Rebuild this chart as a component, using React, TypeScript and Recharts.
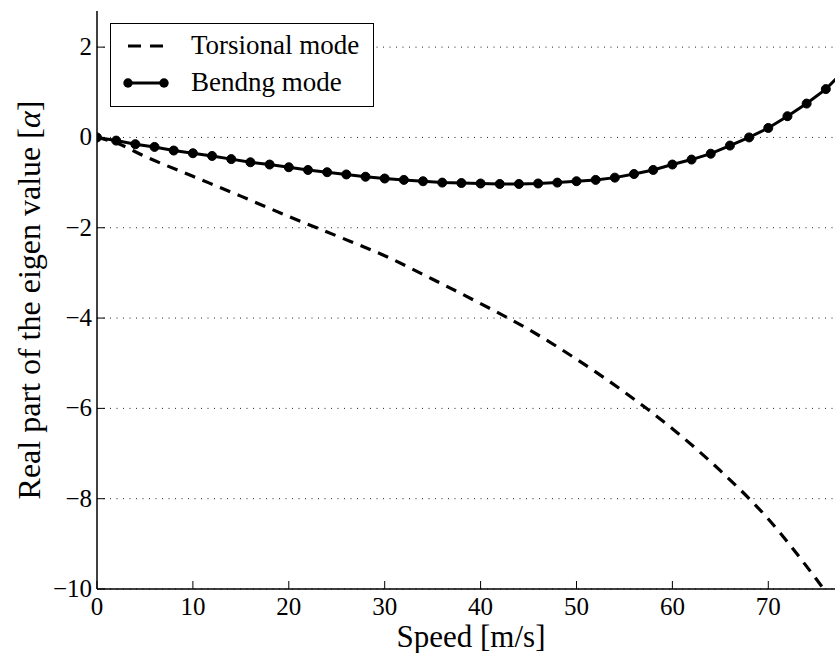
import React from 'react';
import { LineChart, Line, XAxis, YAxis, CartesianGrid, Legend } from 'recharts';

const bendingSpeed = [0, 2, 4, 6, 8, 10, 12, 14, 16, 18, 20, 22, 24, 26, 28, 30, 32, 34, 36, 38, 40, 42, 44, 46, 48, 50, 52, 54, 56, 58, 60, 62, 64, 66, 68, 70, 72, 74, 76, 78];
const bendingReal = [0, -0.07, -0.15, -0.21, -0.29, -0.35, -0.41, -0.48, -0.55, -0.6, -0.66, -0.72, -0.77, -0.82, -0.87, -0.91, -0.94, -0.97, -1.0, -1.01, -1.02, -1.03, -1.03, -1.02, -1.0, -0.97, -0.94, -0.89, -0.81, -0.72, -0.6, -0.49, -0.36, -0.18, 0.0, 0.21, 0.47, 0.75, 1.07, 1.5];

const torsionalSpeed = [0, 2, 5, 10, 15, 20, 25, 30, 35, 40, 45, 50, 55, 60, 65, 70, 75, 78];
const torsionalReal = [0, -0.12, -0.42, -0.86, -1.3, -1.75, -2.18, -2.62, -3.14, -3.68, -4.25, -4.91, -5.64, -6.45, -7.38, -8.45, -9.78, -10.65];

const xTicks = [0, 10, 20, 30, 40, 50, 60, 70];
const yTicks = [-10, -8, -6, -4, -2, 0, 2];

const seriesOrder = ['Torsional mode', 'Bendng mode'];

const bendingData = bendingSpeed.map((s, i) => ({ speed: s, value: bendingReal[i] }));
const torsionalData = torsionalSpeed.map((s, i) => ({ speed: s, value: torsionalReal[i] }));

const FONT = '"Liberation Serif", "DejaVu Serif", serif';
const TICK_LEN = 8;

const fmt = (v: number) => (v < 0 ? '\u2212' + Math.abs(v) : String(v));

const renderBottomTick = (props: any) => {
  const { x, y, payload } = props;
  return (
    <g key={`b-${payload.value}`}>
      <line x1={x} y1={y} x2={x} y2={y - TICK_LEN} stroke="#000" strokeWidth={1} />
      <text x={x} y={y + 26} textAnchor="middle" fontFamily={FONT} fontSize={25} fill="#000">
        {fmt(payload.value)}
      </text>
    </g>
  );
};

const renderTopTick = (props: any) => {
  const { x, y, payload } = props;
  return <line key={`t-${payload.value}`} x1={x} y1={y} x2={x} y2={y + TICK_LEN} stroke="#000" strokeWidth={1} />;
};

const renderLeftTick = (props: any) => {
  const { x, y, payload } = props;
  return (
    <g key={`l-${payload.value}`}>
      <line x1={x} y1={y} x2={x + TICK_LEN} y2={y} stroke="#000" strokeWidth={1} />
      <text x={x - 5} y={y + 8} textAnchor="end" fontFamily={FONT} fontSize={25} fill="#000">
        {fmt(payload.value)}
      </text>
    </g>
  );
};

const XLabel = (props: any) => {
  const vb = props.viewBox;
  return (
    <text x={vb.x + vb.width / 2} y={vb.y + 58} textAnchor="middle" fontFamily={FONT} fontSize={31} fill="#000">
      Speed [m/s]
    </text>
  );
};

const YLabel = (props: any) => {
  const vb = props.viewBox;
  const cx = vb.x + 40;
  const cy = vb.y + vb.height / 2;
  return (
    <text
      x={cx}
      y={cy}
      transform={`rotate(-90, ${cx}, ${cy})`}
      textAnchor="middle"
      fontFamily={FONT}
      fontSize={32}
      fill="#000"
    >
      Real part of the eigen value [<tspan fontStyle="italic">α</tspan>]
    </text>
  );
};

const LegendContent = (props: any) => {
  const payload = [...(props.payload || [])].sort(
    (a: any, b: any) => seriesOrder.indexOf(a.value) - seriesOrder.indexOf(b.value)
  );
  return (
    <div
      style={{
        width: 264,
        height: 84,
        boxSizing: 'border-box',
        border: '1.3px solid #000',
        background: '#fff',
        paddingTop: 3,
      }}
    >
      {payload.map((entry: any, i: number) => {
        const dashed = entry.value === 'Torsional mode';
        return (
          <div key={i} style={{ display: 'flex', alignItems: 'center', height: 37 }}>
            <svg width={70} height={20} style={{ marginLeft: 10 }}>
              {dashed ? (
                <line x1={7} y1={10} x2={45} y2={10} stroke="#000" strokeWidth={3.2} strokeDasharray="13 9" />
              ) : (
                <g>
                  <line x1={7} y1={10} x2={43} y2={10} stroke="#000" strokeWidth={3} />
                  <circle cx={7} cy={10} r={4.7} fill="#000" />
                  <circle cx={43} cy={10} r={4.7} fill="#000" />
                </g>
              )}
            </svg>
            <span style={{ fontFamily: FONT, fontSize: 27, color: '#000', lineHeight: '27px' }}>{entry.value}</span>
          </div>
        );
      })}
    </div>
  );
};

export default function App() {
  return (
    <div style={{ position: 'absolute', left: 0, top: 0, width: 835, height: 653, overflow: 'hidden', background: '#fff' }}>
      <LineChart width={845} height={653} margin={{ top: 11, right: 0, bottom: 0, left: 0 }}>
        <CartesianGrid
          stroke="#222"
          strokeWidth={1}
          strokeDasharray="1 5.5"
          horizontalValues={yTicks}
          verticalValues={xTicks}
        />
        <XAxis
          xAxisId="main"
          dataKey="speed"
          type="number"
          domain={[0, 78]}
          ticks={xTicks}
          allowDataOverflow
          height={64}
          tickSize={0}
          tickMargin={0}
          tick={renderBottomTick}
          axisLine={{ stroke: '#000', strokeWidth: 1.5 }}
          label={<XLabel />}
          interval={0}
        />
        <XAxis
          xAxisId="top"
          orientation="top"
          dataKey="speed"
          type="number"
          domain={[0, 78]}
          ticks={xTicks}
          allowDataOverflow
          height={0}
          tickSize={0}
          tickMargin={0}
          tick={renderTopTick}
          axisLine={{ stroke: '#000', strokeWidth: 1.5 }}
          interval={0}
        />
        <YAxis
          type="number"
          domain={[-10, 2.8]}
          ticks={yTicks}
          allowDataOverflow
          width={97}
          tickSize={0}
          tickMargin={0}
          tick={renderLeftTick}
          axisLine={{ stroke: '#000', strokeWidth: 1.5 }}
          label={<YLabel />}
          interval={0}
        />
        <Legend
          layout="vertical"
          align="center"
          verticalAlign="middle"
          wrapperStyle={{ left: 110, top: 23, width: 264, height: 84 }}
          content={<LegendContent />}
        />
        <Line
          xAxisId="main"
          data={torsionalData}
          dataKey="value"
          name="Torsional mode"
          type="monotone"
          stroke="#000"
          strokeWidth={3.2}
          strokeDasharray="11 8"
          dot={false}
          activeDot={false}
          isAnimationActive={false}
        />
        <Line
          xAxisId="main"
          data={bendingData}
          dataKey="value"
          name="Bendng mode"
          type="linear"
          stroke="#000"
          strokeWidth={3}
          dot={{ r: 4.5, fill: '#000', stroke: '#000', strokeWidth: 1 }}
          activeDot={false}
          isAnimationActive={false}
        />
      </LineChart>
    </div>
  );
}
